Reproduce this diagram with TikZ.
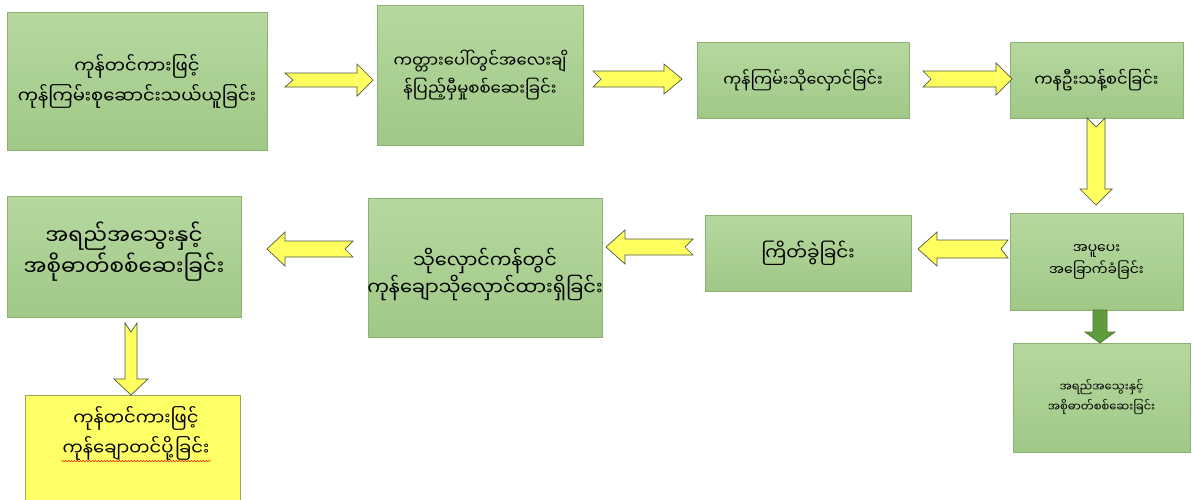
\documentclass[tikz,border=0pt]{standalone}
\usepackage{fontspec}
\newfontfamily\mm[Script=Myanmar]{Noto Sans Myanmar UI}
\usetikzlibrary{decorations.pathmorphing}
\definecolor{boxtop}{RGB}{182,216,160}
\definecolor{boxbot}{RGB}{160,200,134}
\definecolor{boxline}{RGB}{140,178,112}
\definecolor{ylwfill}{RGB}{255,255,96}
\definecolor{ylwline}{RGB}{80,88,64}
\definecolor{ylwbox}{RGB}{255,255,102}
\definecolor{ylwboxline}{RGB}{160,160,90}
\definecolor{grnarr}{RGB}{96,156,62}
\definecolor{grnline}{RGB}{76,120,48}
\tikzset{
  gbox/.style={rectangle, draw=boxline, line width=0.8pt, top color=boxtop, bottom color=boxbot, align=center, inner sep=2pt},
  mmf/.style 2 args={font={\mm\fontsize{#1}{#2}\selectfont}},
  yarrow/.style={fill=ylwfill, draw=ylwline, line width=0.7pt, line join=miter},
  garrow/.style={fill=grnarr, draw=grnline, line width=0.7pt}
}
% #1 style, #2 start coordinate, #3 angle, #4 length, #5 body half width, #6 head half width, #7 head length, #8 notch depth
\newcommand\blockarrow[8]{%
  \begin{scope}[shift={(#2)}, rotate=#3]
    \path[#1] (0,#5) -- ({#4-#7},#5) -- ({#4-#7},#6) -- (#4,0) -- ({#4-#7},-#6) -- ({#4-#7},-#5) -- (0,-#5) -- (#8,0) -- cycle;
  \end{scope}}
\begin{document}
\begin{tikzpicture}[x=1pt, y=-1pt]
\useasboundingbox (0,0) rectangle (1192,499);
\fill[white] (0,0) rectangle (1192,499);
% boxes
\node[gbox, mmf={18}{30}, minimum width=260pt, minimum height=138pt] (b1) at (137,81) {ကုန်တင်ကားဖြင့်\\ကုန်ကြမ်းစုဆောင်းသယ်ယူခြင်း};
\node[gbox, mmf={16.5}{28}, minimum width=206pt, minimum height=140pt] (b2) at (480,75) {ကတ္တားပေါ်တွင်အလေးချိ\\န်ပြည့်မှီမှုစစ်ဆေးခြင်း};
\node[gbox, mmf={16}{24}, minimum width=212pt, minimum height=76pt] (b3) at (803,80) {ကုန်ကြမ်းသိုလှောင်ခြင်း};
\node[gbox, mmf={16.3}{24}, minimum width=173pt, minimum height=76pt] (b4) at (1096.5,80) {ကနဦးသန့်စင်ခြင်း};
\node[gbox, mmf={14}{22}, minimum width=173pt, minimum height=97pt] (b5) at (1096.5,261.5) {အပူပေး\\အခြောက်ခံခြင်း};
\node[gbox, mmf={11.5}{20}, minimum width=177pt, minimum height=109pt] (b6) at (1101.5,397.5) {အရည်အသွေးနှင့်\\အစိုဓာတ်စစ်ဆေးခြင်း};
\node[gbox, mmf={18.5}{24}, minimum width=206pt, minimum height=76pt] (b7) at (808,253) {ကြိတ်ခွဲခြင်း};
\node[gbox, minimum width=234pt, minimum height=139pt] (b8) at (485,267.5) {};
\node[mmf={19.3}{27}, align=center] (b8t) at ([yshift=-7pt]b8.center) {သိုလှောင်ကန်တွင်\\ကုန်ချောသိုလှောင်ထားရှိခြင်း};
\node[gbox, minimum width=234pt, minimum height=121pt] (b9) at (124,256.5) {};
\node[mmf={21.5}{31}, align=center] (b9t) at ([yshift=5pt]b9.center) {အရည်အသွေးနှင့်\\အစိုဓာတ်စစ်ဆေးခြင်း};
\node[rectangle, draw=ylwboxline, line width=0.8pt, fill=ylwbox, minimum width=215pt, minimum height=120pt] (b10) at (132.5,455) {};
\node[mmf={18}{30}, align=center, inner sep=1pt] (b10t) at (136,433) {ကုန်တင်ကားဖြင့်\\ကုန်ချောတင်ပို့ခြင်း};
\draw[red!75!orange, line width=0.5pt, decorate, decoration={snake, amplitude=0.7pt, segment length=3pt}] (b10t.south west) -- (b10t.south east);
% arrow start coordinates
\coordinate (a1) at (285,80);
\coordinate (a2) at (593,79);
\coordinate (a3) at (923,79);
\coordinate (a4) at (1096,118);
\coordinate (a5) at (1008,249);
\coordinate (a6) at (693,247);
\coordinate (a7) at (353,249);
\coordinate (a8) at (131,323);
\coordinate (a9) at (1100,310);
\blockarrow{yarrow}{a1}{0}{88}{7}{16}{16}{8}
\blockarrow{yarrow}{a2}{0}{89}{8}{15}{18}{8}
\blockarrow{yarrow}{a3}{0}{89}{8}{16}{16}{8}
\blockarrow{yarrow}{a4}{-90}{87}{9}{16}{16}{9}
\blockarrow{yarrow}{a5}{180}{90}{9}{17}{19}{7}
\blockarrow{yarrow}{a6}{180}{87}{8}{17}{19}{8}
\blockarrow{yarrow}{a7}{180}{86}{8}{17}{18}{8}
\blockarrow{yarrow}{a8}{-90}{72}{6}{17}{16}{9}
\blockarrow{garrow}{a9}{-90}{33}{7}{15}{11}{0}
\end{tikzpicture}
\end{document}
